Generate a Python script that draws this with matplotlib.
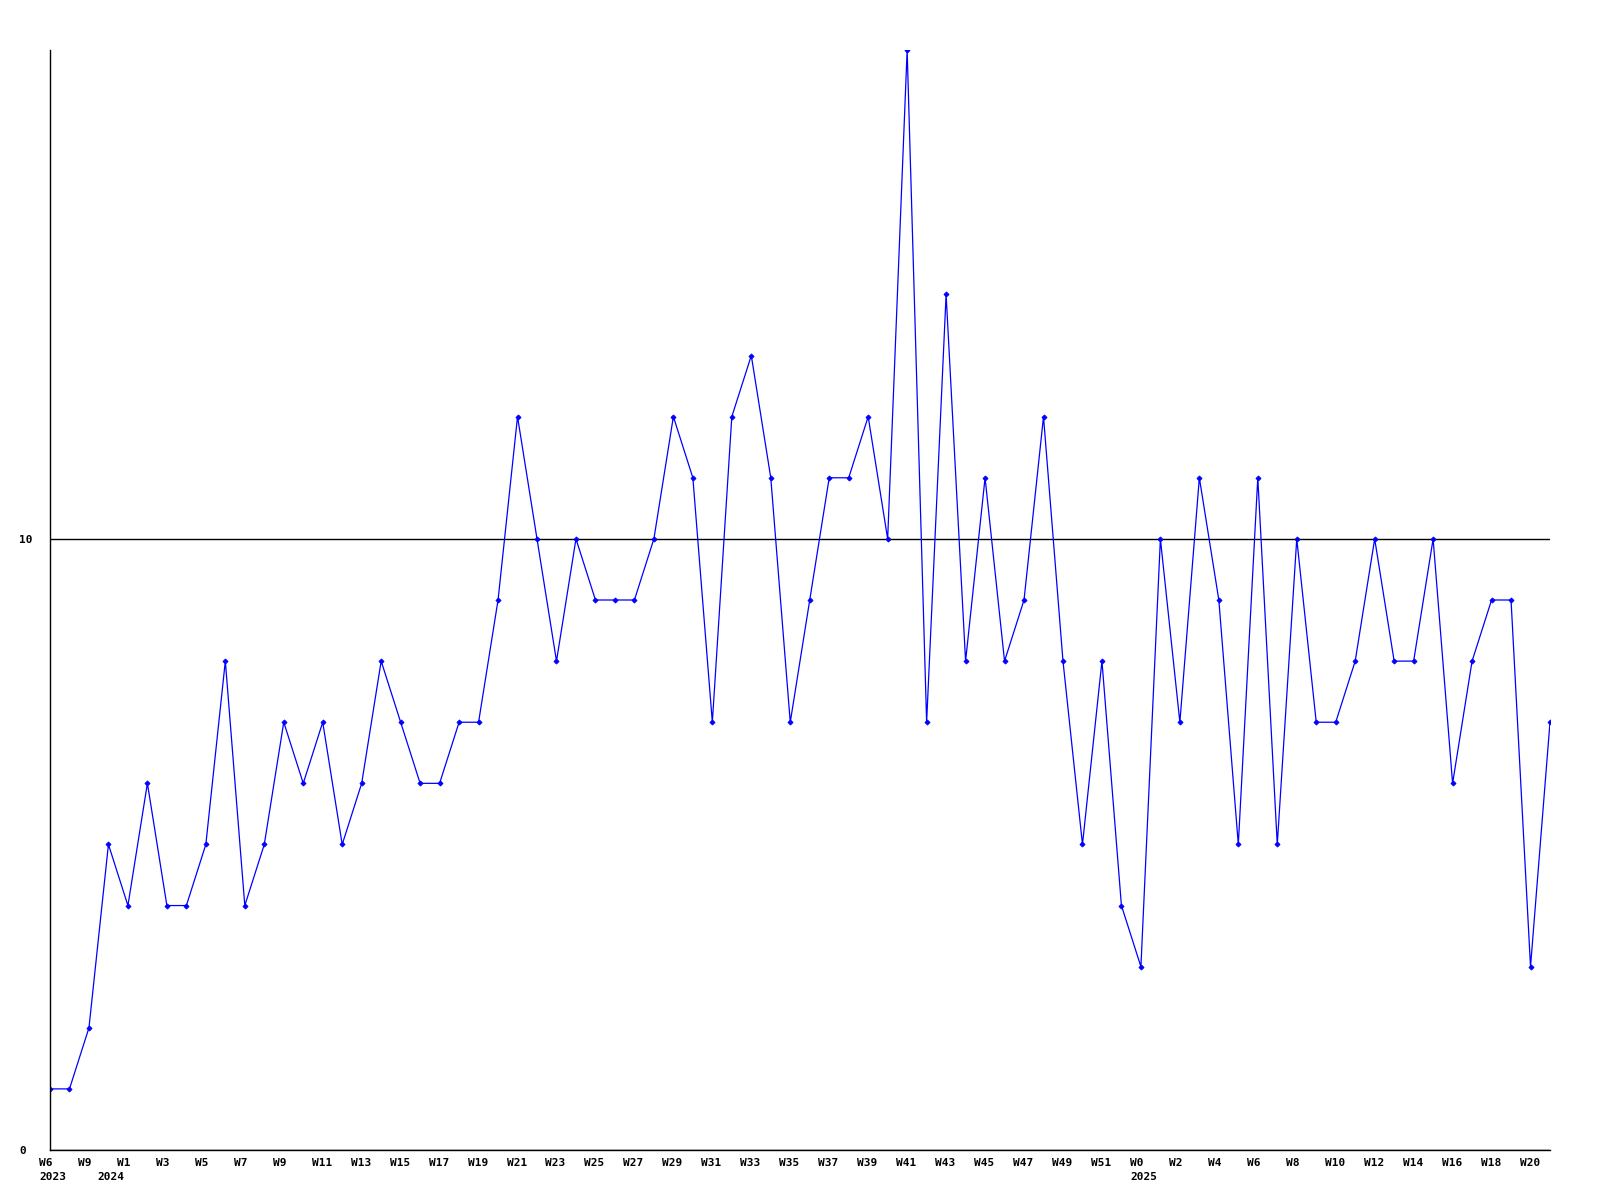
import matplotlib
matplotlib.use("Agg")
import matplotlib.pyplot as plt
import matplotlib.transforms as mtransforms

# weekly counts, one value per week
values = [1, 1, 2, 5, 4, 6, 4, 4, 5, 8,
          4, 5, 7, 6, 7, 5, 6, 8, 7, 6,
          6, 7, 7, 9, 12, 10, 8, 10, 9, 9,
          9, 10, 12, 11, 7, 12, 13, 11, 7, 9,
          11, 11, 12, 10, 18, 7, 14, 8, 11, 8,
          9, 12, 8, 5, 8, 4, 3, 10, 7, 11,
          9, 5, 11, 5, 10, 7, 7, 8, 10, 8,
          8, 10, 6, 8, 9, 9, 3, 7]

# labels shown every second week
week_labels = ["W6", "W9", "W1", "W3", "W5", "W7", "W9", "W11", "W13", "W15",
               "W17", "W19", "W21", "W23", "W25", "W27", "W29", "W31", "W33", "W35",
               "W37", "W39", "W41", "W43", "W45", "W47", "W49", "W51", "W0", "W2",
               "W4", "W6", "W8", "W10", "W12", "W14", "W16", "W18", "W20"]
year_labels = {0: "2023", 3: "2024", 56: "2025"}
y_ticks = [0, 10]

fig = plt.figure(figsize=(16, 12), dpi=100)
ax = fig.add_axes([50 / 1600, 1 - 1150 / 1200, 1500 / 1600, 1100 / 1200])

x = list(range(len(values)))
ax.plot(x, values, color="#0000ff", lw=0.9, marker="D", ms=2.6, mew=0.6)

ax.set_xlim(0, len(values) - 1)
ax.set_ylim(0, 18)

for s in ["top", "right"]:
    ax.spines[s].set_visible(False)
for s in ["left", "bottom"]:
    ax.spines[s].set_linewidth(1.0)
    ax.spines[s].set_color("black")

ax.set_yticks(y_ticks)
ax.set_yticklabels([str(v) for v in y_ticks], fontfamily="DejaVu Sans Mono",
                   fontweight="bold", fontsize=8, ha="left")
ax.tick_params(axis="y", length=0, pad=22.3)
ax.yaxis.grid(True, color="black", lw=1.0)
ax.set_axisbelow(True)

tick_pos = list(range(0, len(values), 2))
ax.set_xticks(tick_pos)
ax.set_xticklabels(week_labels, fontfamily="DejaVu Sans Mono",
                   fontweight="bold", fontsize=8, ha="left")
ax.tick_params(axis="x", length=0, pad=6)
shift = mtransforms.ScaledTranslation(-11 / 100, 0, fig.dpi_scale_trans)
for lab in ax.get_xticklabels():
    lab.set_transform(lab.get_transform() + shift)

for idx, yr in year_labels.items():
    ax.annotate(yr, xy=(idx, 0), xycoords=("data", "axes fraction"),
                xytext=(-11 * 0.72, -27 * 0.72), textcoords="offset points",
                ha="left", va="center", fontfamily="DejaVu Sans Mono",
                fontweight="bold", fontsize=8, annotation_clip=False)

fig.savefig("out.png", dpi=100)
